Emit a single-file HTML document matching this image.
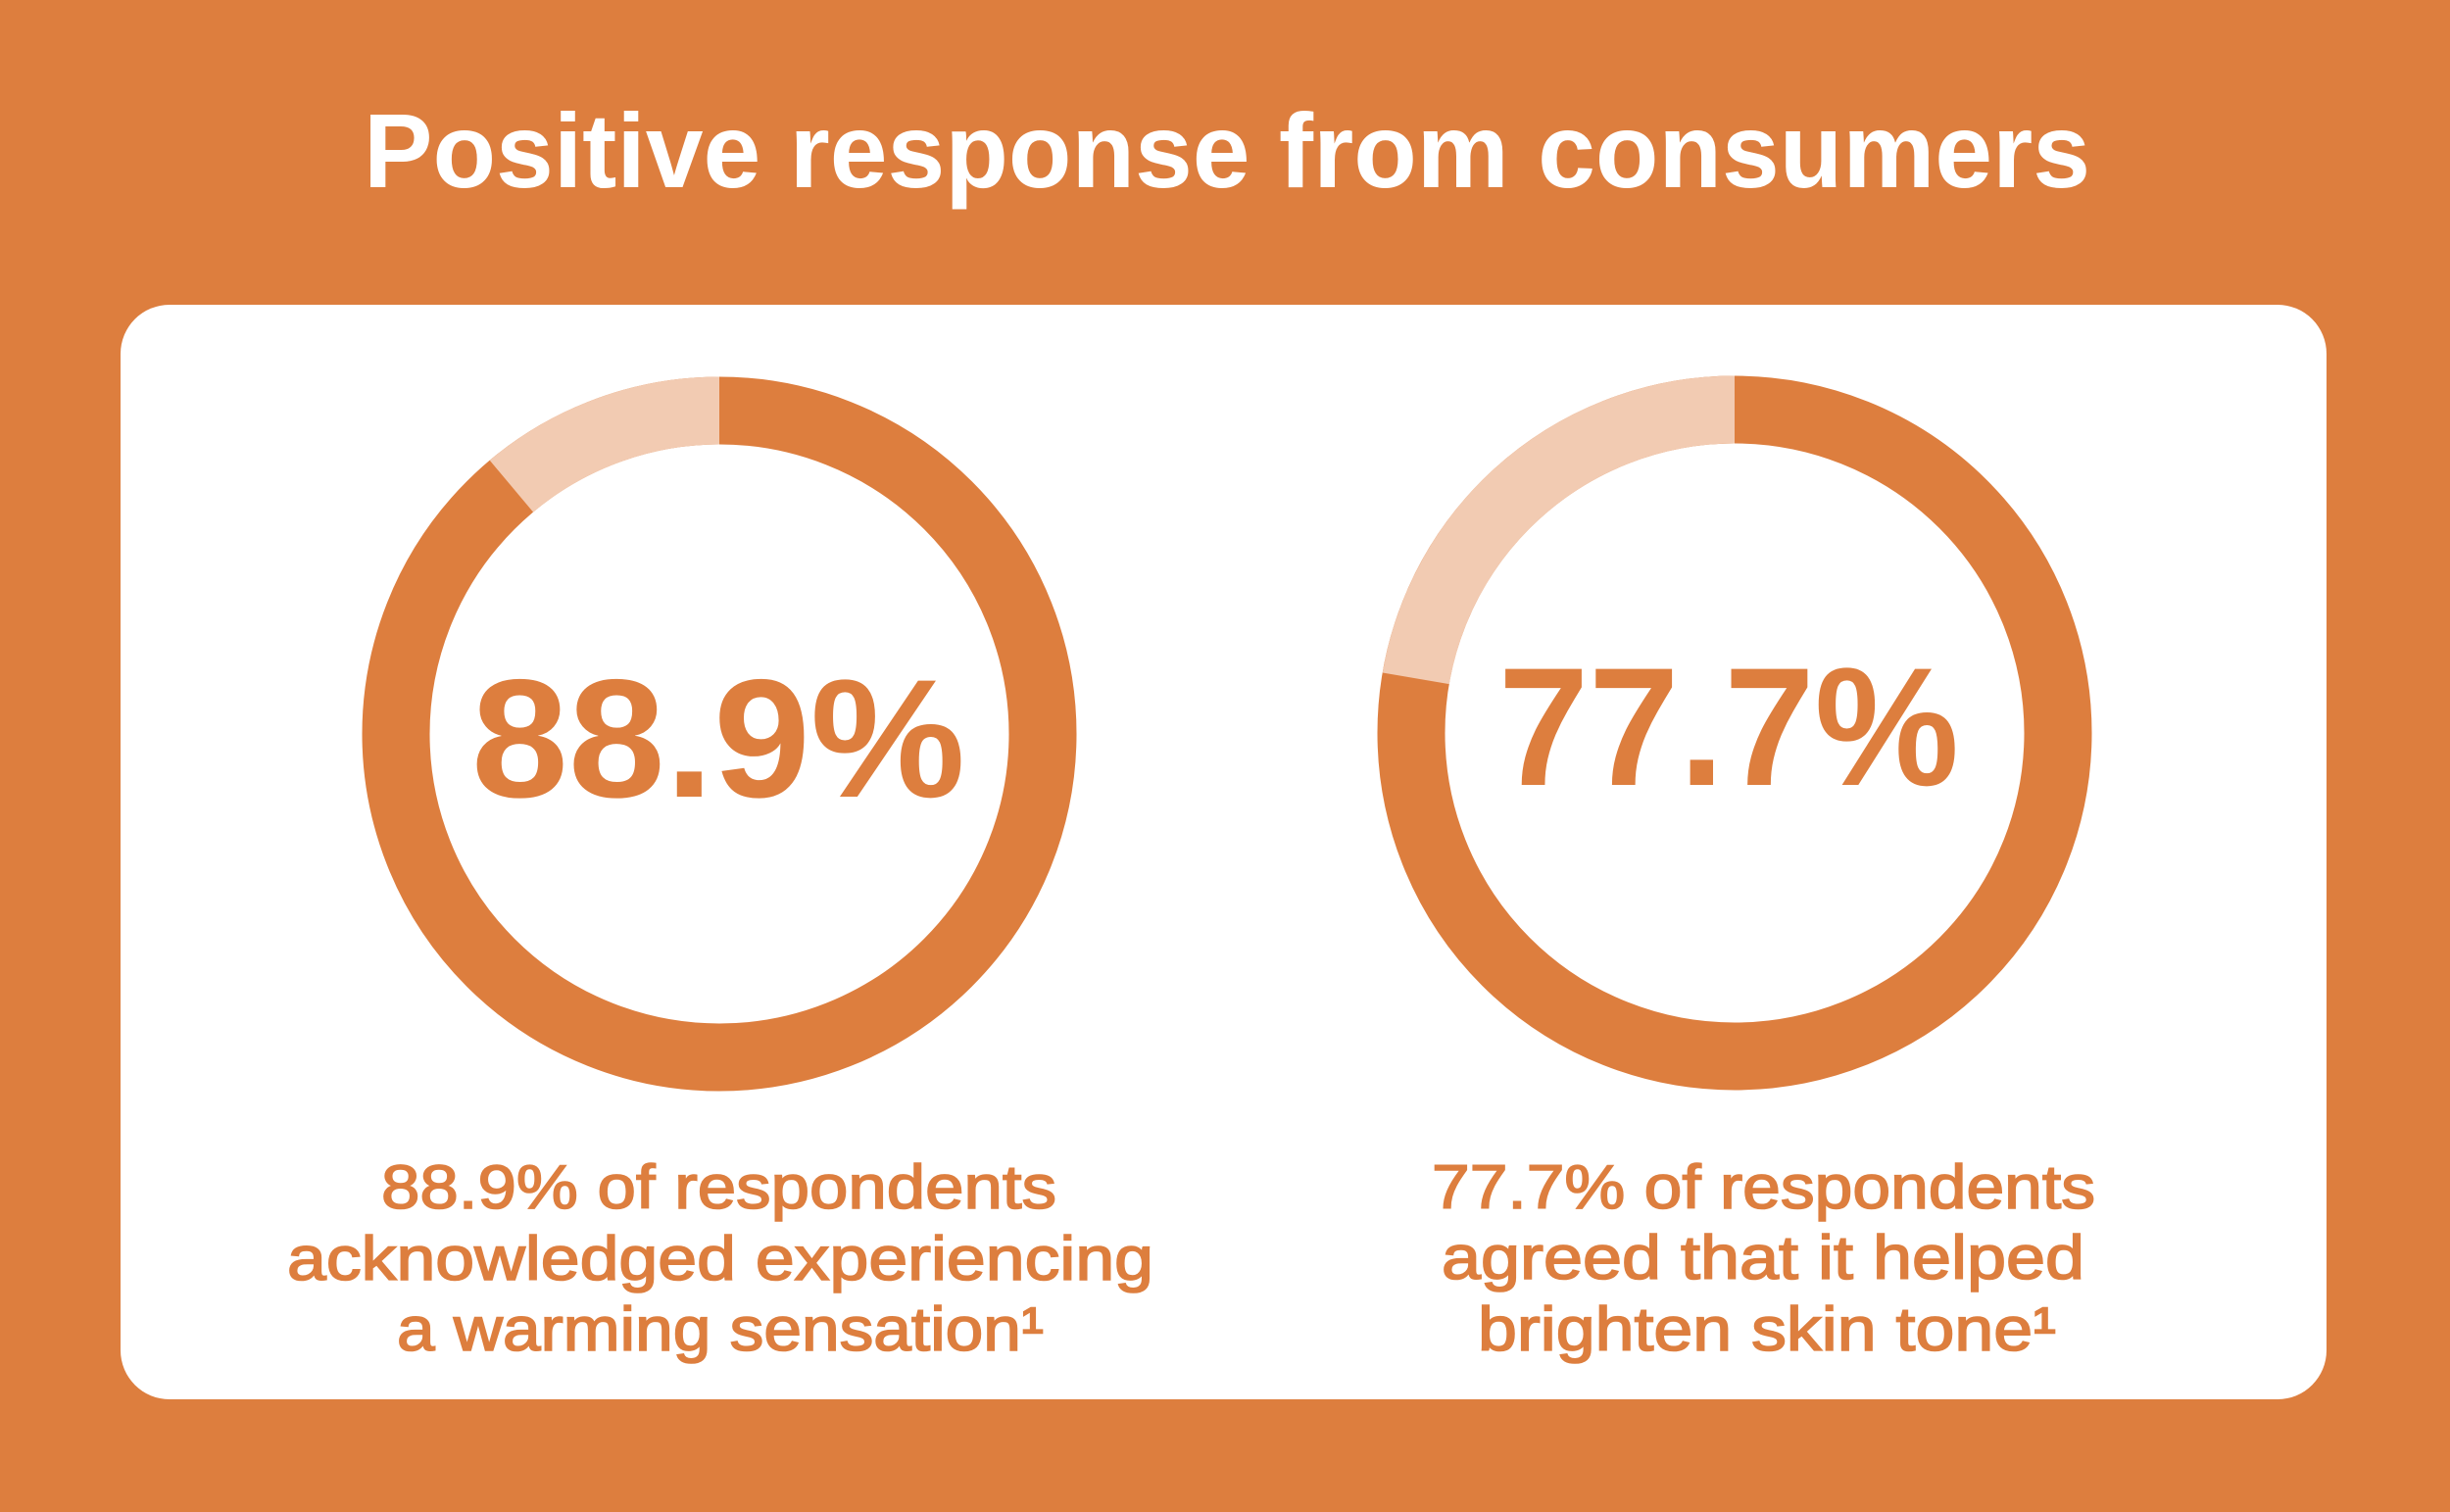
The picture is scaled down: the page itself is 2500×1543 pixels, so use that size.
<!DOCTYPE html>
<html>
<head>
<meta charset="utf-8">
<style>
  html, body { margin: 0; padding: 0; background: #DD7E3E; }
  body { width: 2500px; height: 1543px; overflow: hidden; }
  svg { display: block; }
</style>
</head>
<body>
<svg width="2500" height="1543" viewBox="0 0 2500 1543" xmlns="http://www.w3.org/2000/svg">
  <rect x="0" y="0" width="2500" height="1543" fill="#DD7E3E"/>

  <!-- Title -->
  <text x="371" y="191" fill="#FFFFFF" font-family="'Liberation Sans', Arial, sans-serif" font-weight="bold" font-size="108" textLength="1762" lengthAdjust="spacingAndGlyphs">Positive response from consumers</text>

  <!-- White card -->
  <rect x="123" y="311" width="2251" height="1117" rx="50" ry="50" fill="#FFFFFF"/>

  <!-- Left donut -->
  <circle cx="734" cy="749" r="330" fill="none" stroke="#DD7E3E" stroke-width="69"/>
  <path d="M 521.9 496.2 A 330 330 0 0 1 734 419" fill="none" stroke="#F2CBB2" stroke-width="69" stroke-linecap="butt"/>

  <!-- Right donut -->
  <circle cx="1770" cy="748" r="330" fill="none" stroke="#DD7E3E" stroke-width="69"/>
  <path d="M 1444.8 692.3 A 330 330 0 0 1 1770 418" fill="none" stroke="#F2CBB2" stroke-width="69" stroke-linecap="butt"/>

  <!-- Big numbers -->
  <text x="481" y="813" fill="#DD7E3E" font-family="'Liberation Sans', Arial, sans-serif" font-weight="bold" font-size="172" textLength="504" lengthAdjust="spacingAndGlyphs">88.9%</text>
  <text x="1529" y="801" fill="#DD7E3E" font-family="'Liberation Sans', Arial, sans-serif" font-weight="bold" font-size="172" textLength="470" lengthAdjust="spacingAndGlyphs">77.7%</text>

  <!-- Left caption -->
  <g fill="#DD7E3E" stroke="#DD7E3E" stroke-width="1.6" font-family="'Liberation Sans', Arial, sans-serif" font-size="63">
    <text x="389" y="1233" textLength="689" lengthAdjust="spacingAndGlyphs">88.9% of respondents</text>
    <text x="293" y="1306" textLength="884" lengthAdjust="spacingAndGlyphs">acknowledged experiencing</text>
    <text x="405" y="1378" textLength="660" lengthAdjust="spacingAndGlyphs">a warming sensation¹</text>
  </g>

  <!-- Right caption -->
  <g fill="#DD7E3E" stroke="#DD7E3E" stroke-width="1.6" font-family="'Liberation Sans', Arial, sans-serif" font-size="63">
    <text x="1461" y="1233" textLength="677" lengthAdjust="spacingAndGlyphs">77.7% of respondents</text>
    <text x="1471" y="1305" textLength="656" lengthAdjust="spacingAndGlyphs">agreed that it helped</text>
    <text x="1508" y="1378" textLength="590" lengthAdjust="spacingAndGlyphs">brighten skin tone¹</text>
  </g>
</svg>
</body>
</html>
